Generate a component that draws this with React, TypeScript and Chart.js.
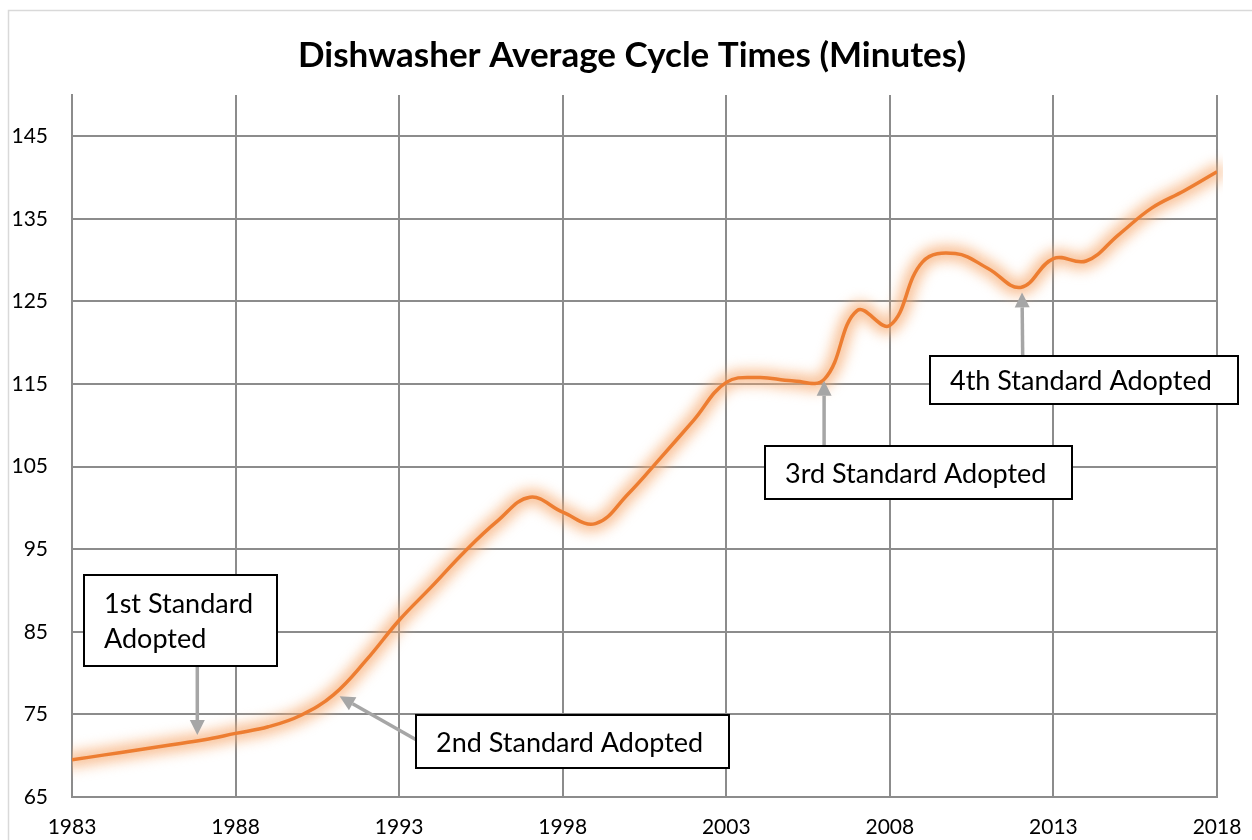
import React, { useEffect, useRef } from "react";
import { Chart, registerables } from "chart.js";

Chart.register(...registerables);

const TITLE = "Dishwasher Average Cycle Times (Minutes)";

const YEARS = [
  1983, 1984, 1985, 1986, 1987, 1988, 1989, 1990, 1991, 1992, 1993, 1994,
  1995, 1996, 1997, 1998, 1999, 2000, 2001, 2002, 2003, 2004, 2005, 2006,
  2007, 2008, 2009, 2010, 2011, 2012, 2013, 2014, 2015, 2016, 2017, 2018,
];

const CYCLE_MINUTES = [
  69.5, 70.1, 70.7, 71.3, 71.9, 72.7, 73.5, 74.9, 77.4, 81.6, 86.4, 90.5,
  94.7, 98.4, 101.3, 99.5, 98.1, 101.7, 106.1, 110.6, 115.2, 115.8, 115.4, 115.6,
  123.9, 122.1, 129.8, 130.8, 129.0, 126.7, 130.2, 129.9, 133.1, 136.3, 138.4, 140.7,
];

const X_TICKS = [1983, 1988, 1993, 1998, 2003, 2008, 2013, 2018];
const Y_TICKS = [65, 75, 85, 95, 105, 115, 125, 135, 145];
const Y_MIN = 65;
const Y_MAX = 150;

// Callout labels (text) and their anchors in data coordinates (year, minutes)
const CALLOUT_TEXT = [
  ["1st Standard", "Adopted"],
  ["2nd Standard Adopted"],
  ["3rd Standard Adopted"],
  ["4th Standard Adopted"],
];
// box: [leftYear, topValue, rightYear, bottomValue]
const CALLOUT_BOX = [
  [1983.37, 91.85, 1989.27, 80.86],
  [1993.52, 74.94, 2003.07, 68.5],
  [2004.19, 107.55, 2013.57, 101.11],
  [2009.23, 118.42, 2018.63, 112.58],
];
// arrow: [fromYear, fromValue, toYear, toValue]
const CALLOUT_ARROW = [
  [1986.83, 80.86, 1986.83, 72.5],
  [1993.52, 71.92, 1991.18, 77.2],
  [2005.99, 107.55, 2005.99, 115.4],
  [2012.06, 118.42, 2012.04, 126.1],
];

const FONT = "Lato, 'Open Sans', sans-serif";

const glowPlugin = {
  id: "glow",
  beforeDatasetDraw(chart: any, args: any) {
    const ctx = chart.ctx;
    const line = args.meta.dataset;
    const area = chart.chartArea;
    ctx.save();
    ctx.beginPath();
    ctx.rect(area.left, 0, area.right - area.left + 6, chart.height);
    ctx.clip();
    ctx.filter = "blur(6px)";
    ctx.lineJoin = "round";
    ctx.lineCap = "round";
    ctx.strokeStyle = "rgba(248,175,120,0.5)";
    ctx.lineWidth = 20;
    ctx.beginPath();
    if (line && typeof line.path === "function") {
      line.path(ctx);
    }
    ctx.stroke();
    ctx.restore();
    ctx.save();
    ctx.shadowColor = "rgba(245,150,85,0.6)";
    ctx.shadowBlur = 10;
    ctx.shadowOffsetX = 0;
    ctx.shadowOffsetY = 0;
  },
  afterDatasetDraw(chart: any) {
    chart.ctx.restore();
  },
};

const framePlugin = {
  id: "frame",
  beforeDraw(chart: any) {
    const ctx = chart.ctx;
    ctx.save();
    ctx.fillStyle = "#ffffff";
    ctx.fillRect(0, 0, chart.width, chart.height);
    ctx.strokeStyle = "#d9d9d9";
    ctx.lineWidth = 1.5;
    ctx.strokeRect(8.5, 10.5, chart.width + 50, chart.height + 50);
    ctx.fillStyle = "#000000";
    ctx.font = `bold 35px ${FONT}`;
    ctx.textAlign = "center";
    ctx.textBaseline = "alphabetic";
    ctx.fillText(TITLE, chart.width / 2 + 6, 67);
    ctx.restore();
  },
};

function drawArrow(ctx: CanvasRenderingContext2D, x1: number, y1: number, x2: number, y2: number) {
  const ang = Math.atan2(y2 - y1, x2 - x1);
  const headLen = 15;
  const headW = 7.5;
  const bx = x2 - headLen * Math.cos(ang);
  const by = y2 - headLen * Math.sin(ang);
  ctx.strokeStyle = "#a6a6a6";
  ctx.fillStyle = "#a6a6a6";
  ctx.lineWidth = 3.5;
  ctx.beginPath();
  ctx.moveTo(x1, y1);
  ctx.lineTo(bx, by);
  ctx.stroke();
  ctx.beginPath();
  ctx.moveTo(x2, y2);
  ctx.lineTo(bx + headW * Math.sin(ang), by - headW * Math.cos(ang));
  ctx.lineTo(bx - headW * Math.sin(ang), by + headW * Math.cos(ang));
  ctx.closePath();
  ctx.fill();
}

const calloutPlugin = {
  id: "callouts",
  afterDraw(chart: any) {
    const ctx = chart.ctx;
    const xs = chart.scales.x;
    const ys = chart.scales.y;
    ctx.save();
    CALLOUT_TEXT.forEach((lines, i) => {
      const [ax1, ay1, ax2, ay2] = CALLOUT_ARROW[i];
      drawArrow(
        ctx,
        xs.getPixelForValue(ax1),
        ys.getPixelForValue(ay1),
        xs.getPixelForValue(ax2),
        ys.getPixelForValue(ay2)
      );
    });
    CALLOUT_TEXT.forEach((lines, i) => {
      const [bx1, by1, bx2, by2] = CALLOUT_BOX[i];
      const l = Math.round(xs.getPixelForValue(bx1));
      const r = Math.round(xs.getPixelForValue(bx2));
      const t = Math.round(ys.getPixelForValue(by1));
      const b = Math.round(ys.getPixelForValue(by2));
      ctx.fillStyle = "#ffffff";
      ctx.fillRect(l, t, r - l, b - t);
      ctx.strokeStyle = "#000000";
      ctx.lineWidth = 2;
      ctx.strokeRect(l, t, r - l, b - t);
      ctx.fillStyle = "#000000";
      ctx.font = `27px ${FONT}`;
      ctx.textAlign = "left";
      ctx.textBaseline = "alphabetic";
      const lh = 35;
      const cy = (t + b) / 2;
      const n = lines.length;
      lines.forEach((line, k) => {
        const lineCenter = cy + (k - (n - 1) / 2) * lh;
        ctx.fillText(line, l + 20, lineCenter + 10);
      });
    });
    ctx.restore();
  },
};

export default function App() {
  const ref = useRef<HTMLCanvasElement | null>(null);

  useEffect(() => {
    if (!ref.current) return;
    const chart = new Chart(ref.current, {
      type: "line",
      data: {
        datasets: [
          {
            label: "Cycle time",
            data: YEARS.map((y, i) => ({ x: y, y: CYCLE_MINUTES[i] })),
            borderColor: "#ED7D31",
            backgroundColor: "#ED7D31",
            borderWidth: 3.5,
            pointRadius: 0,
            pointHoverRadius: 0,
            tension: 0.4,
            fill: false,
          },
        ],
      },
      options: {
        animation: false,
        responsive: true,
        maintainAspectRatio: false,
        events: [],
        layout: { padding: { top: 95, right: 35, left: 0, bottom: 0 } },
        plugins: {
          legend: { display: false },
          title: { display: false },
          tooltip: { enabled: false },
        },
        scales: {
          x: {
            type: "linear",
            min: 1983,
            max: 2018,
            afterBuildTicks: (scale: any) => {
              scale.ticks = X_TICKS.map((v) => ({ value: v }));
            },
            afterFit: (scale: any) => {
              scale.height = 43;
            },
            grid: { color: "#8c8c8c", lineWidth: 2, drawTicks: false },
            border: { color: "#8c8c8c", width: 2 },
            ticks: {
              padding: 4,
              color: "#000000",
              font: { family: FONT, size: 21, lineHeight: 2.5 },
              callback: (v: any) => String(v),
              maxRotation: 0,
              autoSkip: false,
            },
          },
          y: {
            type: "linear",
            min: Y_MIN,
            max: Y_MAX,
            afterBuildTicks: (scale: any) => {
              scale.ticks = Y_TICKS.map((v) => ({ value: v }));
            },
            afterFit: (scale: any) => {
              scale.width = 72;
            },
            grid: { color: "#8c8c8c", lineWidth: 2, drawTicks: false },
            border: { color: "#8c8c8c", width: 2 },
            ticks: {
              padding: 24,
              color: "#000000",
              font: { family: FONT, size: 21 },
              callback: (v: any) => String(v),
              autoSkip: false,
            },
          },
        },
      },
      plugins: [framePlugin, glowPlugin, calloutPlugin],
    });
    return () => chart.destroy();
  }, []);

  return (
    <div style={{ position: "absolute", left: 0, top: 0, width: 1252, height: 840 }}>
      <canvas ref={ref} />
    </div>
  );
}
